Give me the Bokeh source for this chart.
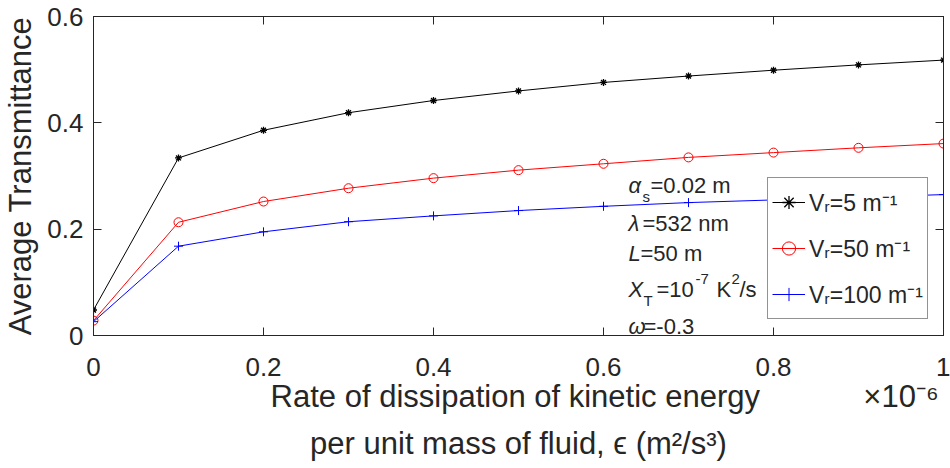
from bokeh.plotting import figure
from bokeh.models import Label, Legend, LegendItem, LinearAxis, FixedTicker, Range1d
from bokeh.core.properties import value
from bokeh.embed import file_html
from bokeh.resources import INLINE

# ---------------- data ----------------
eps_e6 = [0.0, 0.1, 0.2, 0.3, 0.4, 0.5, 0.6, 0.7, 0.8, 0.9, 1.0]  # x 1e-6 m^2/s^3
T_vr5 = [0.048, 0.334, 0.386, 0.419, 0.442, 0.460, 0.476, 0.488, 0.499, 0.509, 0.518]
T_vr50 = [0.028, 0.213, 0.252, 0.277, 0.296, 0.311, 0.323, 0.335, 0.344, 0.353, 0.361]
T_vr100 = [0.026, 0.168, 0.195, 0.214, 0.225, 0.235, 0.243, 0.250, 0.255, 0.260, 0.265]
series_labels = ["V\u1d63=5 m\u207b\u00b9", "V\u1d63=50 m\u207b\u00b9", "V\u1d63=100 m\u207b\u00b9"]
x_ticks = [0, 0.2, 0.4, 0.6, 0.8, 1.0]
x_tick_labels = ["0", "0.2", "0.4", "0.6", "0.8", "1"]
y_ticks = [0, 0.2, 0.4, 0.6]
y_tick_labels = ["0", "0.2", "0.4", "0.6"]
y_title = "Average Transmittance"
x_title_1 = "Rate of dissipation of kinetic energy"
x_title_2 = "per unit mass of fluid, \u03f5 (m\u00b2/s\u00b3)"
x_exponent = "\u00d710\u207b\u2076"

FONT = "Liberation Sans"
TXT = "#262626"

W, H = 950, 468
L, R, T, B = 93, 943, 16, 335
XMIN, XMAX, YMIN, YMAX = 0.0, 1.0, 0.0, 0.6

p = figure(width=W, height=H, output_backend="svg", toolbar_location=None,
           x_range=Range1d(XMIN, XMAX), y_range=Range1d(YMIN, YMAX),
           min_border_left=L, min_border_right=W - R, min_border_top=T,
           min_border_bottom=H - B, background_fill_color="white",
           border_fill_color="white")
p.xgrid.visible = False
p.ygrid.visible = False
p.outline_line_color = TXT
p.outline_line_width = 1


def style_axis(ax, show_labels=True):
    ax.major_tick_in = 8
    ax.major_tick_out = 0
    ax.minor_tick_in = 0
    ax.minor_tick_out = 0
    ax.axis_line_color = TXT
    ax.major_tick_line_color = TXT
    ax.major_label_text_font = FONT
    ax.major_label_text_color = TXT
    ax.axis_label_text_font = FONT
    ax.axis_label_text_color = TXT
    ax.axis_label_text_font_style = "normal"
    ax.axis_label_text_font_size = "31px"
    if show_labels:
        ax.major_label_text_font_size = "26px"
    else:
        ax.major_label_text_font_size = "0px"
        ax.major_label_standoff = 0


xa = p.xaxis[0]
ya = p.yaxis[0]
xa.ticker = FixedTicker(ticks=x_ticks)
xa.major_label_overrides = {t: s for t, s in zip(x_ticks, x_tick_labels)}
ya.ticker = FixedTicker(ticks=y_ticks)
ya.major_label_overrides = {t: s for t, s in zip(y_ticks, y_tick_labels)}
style_axis(xa)
style_axis(ya)
xa.major_label_standoff = 22
ya.major_label_standoff = 10

# y title
ya.axis_label = y_title
ya.axis_label_standoff = 6

# x title: two lines; the x10^-6 exponent sits at the right end of line 1
NB = "\u00a0"
xa.axis_label = NB * 20 + x_title_1 + NB * 12 + x_exponent + "\n" + x_title_2
xa.axis_label_text_line_height = 1.35
xa.axis_label_standoff = 0

top_ax = LinearAxis(ticker=FixedTicker(ticks=x_ticks))
right_ax = LinearAxis(ticker=FixedTicker(ticks=y_ticks))
style_axis(top_ax, False)
style_axis(right_ax, False)
p.add_layout(top_ax, "above")
p.add_layout(right_ax, "right")

# ---------------- series ----------------
l1 = p.line(eps_e6, T_vr5, line_color="black", line_width=1)
m1 = p.scatter(eps_e6, T_vr5, marker="asterisk", size=7, line_color="black", line_width=1.3)
l2 = p.line(eps_e6, T_vr50, line_color="red", line_width=1)
m2 = p.scatter(eps_e6, T_vr50, marker="circle", size=9, line_color="red",
               fill_color=None, line_width=1)
l3 = p.line(eps_e6, T_vr100, line_color="blue", line_width=1)
m3 = p.scatter(eps_e6, T_vr100, marker="cross", size=9, line_color="blue", line_width=1)

legend = Legend(items=[LegendItem(label=value(series_labels[0]), renderers=[l1, m1]),
                       LegendItem(label=value(series_labels[1]), renderers=[l2, m2]),
                       LegendItem(label=value(series_labels[2]), renderers=[l3, m3])],
                location=(674, 16), glyph_width=33, glyph_height=40,
                label_height=40, label_width=110, label_standoff=4,
                spacing=6, padding=4, margin=0,
                border_line_color=TXT, border_line_width=1,
                background_fill_color="white", background_fill_alpha=1.0,
                label_text_font=FONT, label_text_font_size="23px",
                label_text_color=TXT)
p.add_layout(legend, "center")


# ---------------- annotation text (pixel position -> data coords) ----------------
def px2x(px):
    return XMIN + (px - L) / (R - L) * (XMAX - XMIN)


def py2y(py):
    return YMIN + (B - py) / (B - T) * (YMAX - YMIN)


def txt(px, py, s, size, style="normal"):
    p.add_layout(Label(x=px2x(px), y=py2y(py), text=s, text_font=FONT,
                       text_font_size=f"{size}px", text_font_style=style,
                       text_color=TXT, text_align="left", text_baseline="alphabetic"))


txt(628, 185, "\u03b1", 22, "italic")
txt(642, 196, "s", 15)
txt(650, 185, "=0.02 m", 22)
txt(628, 223, "\u03bb", 22, "italic")
txt(642, 223, "=532 nm", 22)
txt(628, 253, "L", 22, "italic")
txt(640, 253, "=50 m", 22)
txt(628, 289, "X", 22, "italic")
txt(643, 300, "T", 15)
txt(656, 289, "=10", 22)
txt(695, 278, "-7", 15)
txt(716, 289, "K", 22)
txt(731, 278, "2", 15)
txt(739, 289, "/s", 22)
txt(628, 326, "\u03c9", 22, "italic")
txt(643, 326, "=-0.3", 22)

open("out.html", "w").write(file_html(p, INLINE))
